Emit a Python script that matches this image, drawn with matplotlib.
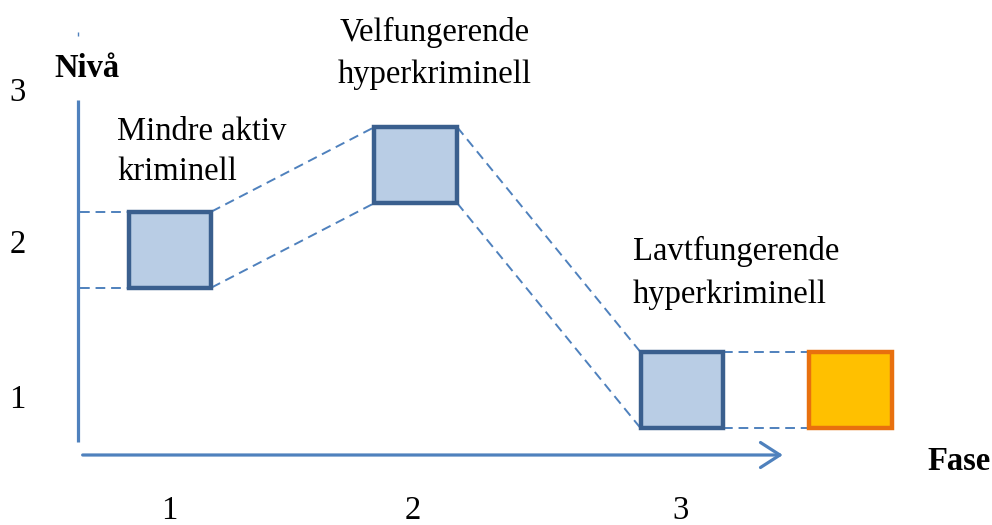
import matplotlib.pyplot as plt
from matplotlib.patches import Rectangle, FancyArrowPatch

plt.rcParams['font.family'] = ['Liberation Serif', 'DejaVu Serif']

# data: phase (x) and level (y) of each box
phases = [1.0, 1.96, 3.0, 3.66]
levels = [1.98, 2.53, 1.065, 1.065]
box_labels = ["Mindre aktiv\nkriminell", "Velfungerende\nhyperkriminell",
              "Lavtfungerende\nhyperkriminell", ""]
x_ticks = [0.996, 1.949, 2.996]
x_tick_labels = ["1", "2", "3"]
y_ticks = [3.0, 2.01, 1.0]
y_tick_labels = ["3", "2", "1"]

blue_fill = '#B9CDE5'
blue_edge = '#3A5F8E'
orange_fill = '#FFC000'
orange_edge = '#E8700E'
axis_color = '#4F81BD'

box_w = 0.324
box_h = 0.495

fig = plt.figure(figsize=(9.92, 5.25), dpi=100)
ax = fig.add_axes([0, 0, 1, 1])
ax.set_xlim(0.336, 4.211)
ax.set_ylim(0.186, 3.606)
ax.axis('off')

# axes
ax_x = 0.641
ax.plot([ax_x, ax_x], [0.726, 2.954], color=axis_color, lw=2.3, solid_capstyle='butt')
ax.plot([ax_x], [3.384], marker='|', color=axis_color, ms=3, mew=1)
arrow = FancyArrowPatch((0.648, 0.642), (3.405, 0.642),
                        arrowstyle='->,head_length=14,head_width=9',
                        mutation_scale=1, color=axis_color, lw=2.3)
ax.add_patch(arrow)

dash = (0, (5, 3))

# dashed guides from the y axis to the first box
for dy in (box_h / 2, -box_h / 2):
    ax.plot([0.648, phases[0] - box_w / 2], [levels[0] + dy] * 2,
            color=axis_color, lw=1.4, ls=dash)

# dashed connectors between neighbouring boxes
for i in range(len(phases) - 1):
    for dy in (box_h / 2, -box_h / 2):
        ax.plot([phases[i] + box_w / 2, phases[i + 1] - box_w / 2],
                [levels[i] + dy, levels[i + 1] + dy],
                color=axis_color, lw=1.4, ls=dash)

# boxes
for i, (p, l) in enumerate(zip(phases, levels)):
    last = i == len(phases) - 1
    rect = Rectangle((p - box_w / 2, l - box_h / 2), box_w, box_h,
                     facecolor=orange_fill if last else blue_fill,
                     edgecolor=orange_edge if last else blue_edge,
                     lw=3.2, joinstyle='miter', zorder=3)
    ax.add_patch(rect)

# box labels
fs = 23.5
ax.text(phases[0] - 0.207, levels[0] + 0.639, box_labels[0], fontsize=fs,
        ha='left', va='center', linespacing=1.42)
ax.text(phases[1] + 0.075, levels[1] + 0.727, box_labels[1], fontsize=fs,
        ha='center', va='center', linespacing=1.52)
ax.text(phases[2] - 0.191, levels[2] + 0.763, box_labels[2], fontsize=fs,
        ha='left', va='center', linespacing=1.52)

# tick labels
for t, s in zip(x_ticks, x_tick_labels):
    ax.text(t, 0.277, s, fontsize=fs, ha='center', va='center')
for t, s in zip(y_ticks, y_tick_labels):
    ax.text(0.405, t, s, fontsize=fs, ha='center', va='center')

ax.text(0.55, 3.16, "Nivå", fontsize=fs, fontweight='bold', ha='left', va='center')
ax.text(3.96, 0.60, "Fase", fontsize=fs, fontweight='bold', ha='left', va='center')

fig.savefig('out.png', dpi=100)
